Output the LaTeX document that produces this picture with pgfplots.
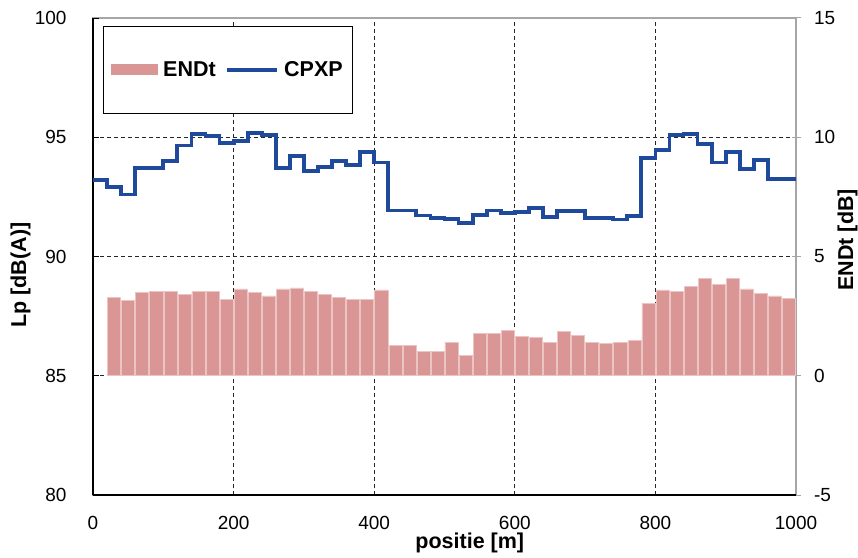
\documentclass[border=0pt]{standalone}
\usepackage{pgfplots}
\pgfplotsset{compat=1.18}
\usepackage{fontspec}
\setmainfont{Liberation Sans}
\definecolor{barcol}{RGB}{217,150,148}
\definecolor{linecol}{RGB}{31,74,156}
\newcommand{\fs}{\fontsize{19bp}{23bp}\selectfont}
\newcommand{\fb}{\fontsize{21.5bp}{25bp}\selectfont\bfseries}
\pgfplotstableread{
x y
30 3.29
50 3.15
70 3.49
90 3.54
110 3.54
130 3.40
150 3.54
170 3.54
190 3.19
210 3.64
230 3.49
250 3.35
270 3.64
290 3.68
310 3.54
330 3.40
350 3.29
370 3.19
390 3.19
410 3.60
430 1.26
450 1.26
470 1.02
490 1.02
510 1.41
530 0.87
550 1.79
570 1.79
590 1.89
610 1.65
630 1.60
650 1.41
670 1.85
690 1.69
710 1.41
730 1.36
750 1.41
770 1.47
790 3.05
810 3.60
830 3.54
850 3.74
870 4.08
890 3.84
910 4.08
930 3.64
950 3.45
970 3.35
990 3.25
}\endt
\pgfplotstableread{
x y
0 93.20
20 92.90
40 92.60
60 93.70
80 93.70
100 94.00
120 94.65
140 95.13
160 95.06
180 94.75
200 94.85
220 95.18
240 95.08
260 93.72
280 94.20
300 93.58
320 93.75
340 94.00
360 93.85
380 94.38
400 93.94
420 91.93
440 91.93
460 91.72
480 91.62
500 91.58
520 91.42
540 91.75
560 91.93
580 91.82
600 91.88
620 92.05
640 91.65
660 91.90
680 91.90
700 91.60
720 91.60
740 91.55
760 91.70
780 94.13
800 94.45
820 95.08
840 95.15
860 94.73
880 93.94
900 94.38
920 93.66
940 94.03
960 93.26
980 93.26
1000 93.26
}\cpxp
\begin{document}
\begin{tikzpicture}
\useasboundingbox (-93bp,-63bp) rectangle (765bp,495bp);
\begin{axis}[
  at={(0,0)}, anchor=south west,
  scale only axis, width=703bp, height=477bp,
  xmin=0, xmax=1000, ymin=-5, ymax=15,
  xtick={0,200,...,1000}, ytick={-5,0,...,15},
  axis line style={draw=gray!70, line width=1.2bp},
  ytick pos=right, xtick pos=bottom,
  tick align=center, major tick length=9bp,
  ytick style={gray!70, line width=1bp},
  xtick style={draw=none},
  /pgf/number format/assume math mode=true,
  /pgf/number format/1000 sep={},
  every tick label/.append style={font=\fs},
  xticklabel style={anchor=base, yshift=-30bp},
  yticklabel style={anchor=west, xshift=10bp},
  xmajorgrids, ymajorgrids,
  grid style={black!85, line width=0.8bp, dash pattern=on 4bp off 3bp},
  xlabel={positie [m]},
  xlabel style={font=\fb, at={(axis description cs:0.536,-0.101)}, anchor=center},
  ylabel={ENDt [dB]},
  ylabel style={font=\fb, at={(axis description cs:1.0735,0.535)}, anchor=center, rotate=0},
]
\addplot[ybar, bar width=18.6, bar shift=0pt, fill=barcol, draw=barcol!55!white, line width=0.5bp] table[x=x,y=y] {\endt};
\end{axis}
\begin{axis}[
  at={(0,0)}, anchor=south west,
  scale only axis, width=703bp, height=477bp,
  xmin=0, xmax=1000, ymin=80, ymax=100,
  axis x line*=bottom, axis y line*=left,
  axis line style={black, line width=1.8bp, -},
  xtick={0,200,...,1000}, xticklabels={}, xtick style={draw=none},
  ytick={80,85,...,100},
  tick align=inside, major tick length=6bp,
  ytick style={black, line width=0.8bp},
  /pgf/number format/assume math mode=true,
  every tick label/.append style={font=\fs},
  yticklabel style={anchor=east, xshift=-23bp},
  ylabel={Lp [dB(A)]},
  ylabel style={font=\fb, at={(axis description cs:-0.103,0.461)}, anchor=center},
  legend columns=2,
  legend style={at={(0.0142,0.983)}, anchor=north west, draw=black, line width=0.8bp,
    inner xsep=8bp, inner ysep=33bp, font=\fb,
    /tikz/every even column/.append style={column sep=8bp},
    /tikz/every odd column/.append style={column sep=3bp}},
  legend cell align=left,
]
\addlegendimage{legend image code/.code={\fill[barcol] (3bp,-5bp) rectangle (49bp,5bp);}}
\addlegendentry{ENDt}
\addplot[const plot, linecol, line width=3.8bp,
  legend image code/.code={\draw[linecol, line width=3.5bp] (0bp,0bp) -- (50bp,0bp);}]
  table[x=x,y=y] {\cpxp};
\addlegendentry{CPXP}
\end{axis}
\end{tikzpicture}
\end{document}
